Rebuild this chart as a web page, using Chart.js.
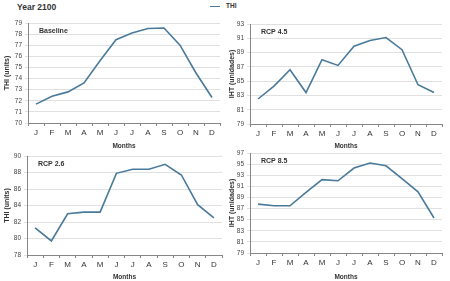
<!DOCTYPE html>
<html>
<head>
<meta charset="utf-8">
<script src="https://cdn.jsdelivr.net/npm/chart.js@4.4.0/dist/chart.umd.min.js"></script>
<style>
    html, body { margin: 0; padding: 0; background: #fff; }
    #wrap { position: relative; width: 450px; height: 281px; overflow: hidden; font-family: "Liberation Sans", Arial, sans-serif; }
    canvas { position: absolute; }
    .title { position: absolute; left: 17px; top: 2px; font-size: 8.5px; font-weight: bold; color: #333; }
    .legend { position: absolute; left: 210px; top: 2px; font-size: 6.5px; font-weight: bold; color: #333; }
    .legend span.swatch { display: inline-block; width: 10px; height: 0; border-top: 1.5px solid #4a7a9b; vertical-align: middle; margin-right: 6px; }
</style>
</head>
<body>
<div id="wrap">
    <div class="title">Year 2100</div>
    <div class="legend"><span class="swatch"></span>THI</div>
    <canvas id="chart-baseline" width="225" height="150" style="left:0;top:0"></canvas>
    <canvas id="chart-rcp45" width="225" height="150" style="left:225px;top:0"></canvas>
    <canvas id="chart-rcp26" width="225" height="141" style="left:0;top:140px"></canvas>
    <canvas id="chart-rcp85" width="225" height="141" style="left:225px;top:140px"></canvas>
</div>
<script>
// THI per month, year 2100
const months = ['J', 'F', 'M', 'A', 'M', 'J', 'J', 'A', 'S', 'O', 'N', 'D'];
const baselineThi = [71.7, 72.4, 72.8, 73.6, 75.6, 77.5, 78.1, 78.5, 78.55, 77.0, 74.5, 72.3];
const rcp45Thi = [82.5, 84.3, 86.6, 83.4, 88.0, 87.2, 89.9, 90.7, 91.1, 89.4, 84.5, 83.4];
const rcp26Thi = [81.3, 79.7, 83.0, 83.2, 83.2, 87.9, 88.4, 88.4, 89.0, 87.7, 84.1, 82.5];
const rcp85Thi = [87.8, 87.5, 87.5, 89.9, 92.2, 92.0, 94.3, 95.2, 94.7, 92.4, 90.0, 85.3];

const LINE_COLOR = '#4a7a9b';
const TEXT_COLOR = '#333333';
const FONT = '"Liberation Sans", Arial, sans-serif';

function panelLabelPlugin(text) {
    return {
        id: 'panelLabel',
        afterDraw(chart) {
            const { ctx, chartArea } = chart;
            ctx.save();
            ctx.font = 'bold 7px ' + FONT;
            ctx.fillStyle = TEXT_COLOR;
            ctx.textBaseline = 'middle';
            ctx.fillText(text, chartArea.left + 11, chartArea.top + 8);
            ctx.restore();
        },
    };
}

function makePanel(id, values, label, yTitle, yMin, yMax, step, box) {
    const canvas = document.getElementById(id);
    if (!canvas) return;
    return new Chart(canvas.getContext('2d'), {
        type: 'line',
        data: {
            labels: months,
            datasets: [{
                label: 'THI',
                data: values,
                borderColor: LINE_COLOR,
                borderWidth: 1.6,
                pointRadius: 0,
                tension: 0,
                fill: false,
            }],
        },
        plugins: [panelLabelPlugin(label)],
        options: {
            responsive: false,
            animation: false,
            devicePixelRatio: 1,
            layout: { padding: { left: 0, top: box.top, right: box.right, bottom: 0 } },
            plugins: { legend: { display: false }, tooltip: { enabled: false } },
            scales: {
                x: {
                    offset: true,
                    grid: {
                        display: true,
                        offset: true,
                        drawOnChartArea: false,
                        drawTicks: true,
                        tickLength: 3,
                        color: '#868686',
                    },
                    border: { color: '#868686', width: 1 },
                    ticks: { color: TEXT_COLOR, font: { family: FONT, size: 8 }, padding: 2, maxRotation: 0, autoSkip: false },
                    title: { display: true, text: 'Months', color: TEXT_COLOR, font: { family: FONT, size: 6.5, weight: 'bold' }, padding: { top: 2, bottom: 0 } },
                    afterFit: s => { s.height = box.xHeight; },
                },
                y: {
                    min: yMin,
                    max: yMax,
                    grid: { color: '#e0e0e0', lineWidth: 1, drawTicks: true, tickLength: 3 },
                    border: { color: '#868686', width: 1 },
                    ticks: { stepSize: step, color: '#444', font: { family: FONT, size: 6.5 }, padding: 3 },
                    title: { display: true, text: yTitle, color: TEXT_COLOR, font: { family: FONT, size: 7, weight: 'bold' }, padding: { top: 3, bottom: 0 } },
                    afterFit: s => { s.width = box.yWidth; },
                },
            },
        },
    });
}

makePanel('chart-baseline', baselineThi, 'Baseline', 'THI (units)', 70, 79, 1,
    { top: 23, right: 5, yWidth: 28, xHeight: 27 });
makePanel('chart-rcp45', rcp45Thi, 'RCP 4.5', 'IHT (unidades)', 79, 93, 2,
    { top: 24, right: 8, yWidth: 25, xHeight: 26 });
makePanel('chart-rcp26', rcp26Thi, 'RCP 2.6', 'THI (units)', 78, 90, 2,
    { top: 16, right: 3, yWidth: 27, xHeight: 26 });
makePanel('chart-rcp85', rcp85Thi, 'RCP 8.5', 'IHT (unidades)', 79, 97, 2,
    { top: 13, right: 8, yWidth: 25, xHeight: 28 });
</script>
</body>
</html>
